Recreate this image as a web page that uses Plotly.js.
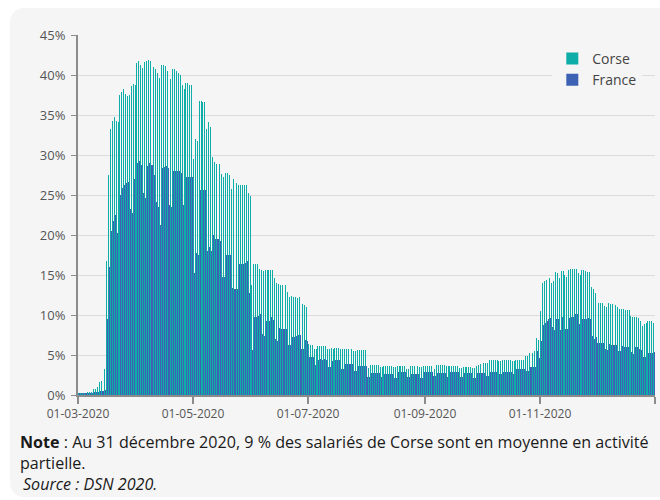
<!DOCTYPE html>
<html>
<head>
<meta charset="utf-8">
<script src="https://cdn.plot.ly/plotly-3.0.1.min.js"></script>
<style>
  html, body { margin:0; padding:0; background:#ffffff; width:660px; height:500px; overflow:hidden; }
  #card { position:absolute; left:10px; top:8px; width:680px; height:489px; background:#f5f5f5; border-radius:14px; }
  #chart { position:absolute; left:0; top:0; width:660px; height:500px; }
  #note { position:absolute; left:20px; top:432px; width:640px; font-family:"Open Sans", sans-serif; font-size:16.1px; line-height:21px; color:#1a1a1a; white-space:nowrap; }
  #note .src { font-style:italic; padding-left:3px; }
</style>
</head>
<body>
<div id="card"></div>
<div id="chart"></div>
<div id="note">
  <div><b>Note</b><span> : Au 31 décembre 2020, 9 % des salariés de Corse sont en moyenne en activité</span></div>
  <div>partielle.</div>
  <div class="src">Source : DSN 2020.</div>
</div>
<script>
// Daily share of employees in partial activity (%), from 01-03-2020 to 31-12-2020
const firstDay = '2020-03-01';
const corse = [
  0.3,0.3,0.3,0.3,0.3,0.4,0.4,
  0.4,0.8,0.8,1.0,1.6,1.7,1.9,
  3.2,16.7,27.5,33.3,34.2,34.7,34.2,
  34.1,37.5,37.9,38.2,37.6,37.4,37.5,
  38.6,38.9,38.8,41.5,41.8,41.2,40.9,
  41.6,41.7,41.9,41.8,41.8,41.0,40.7,
  40.3,39.6,41.3,41.2,41.1,40.5,40.0,
  39.5,40.8,40.7,40.5,40.2,40.0,38.8,
  38.3,39.0,39.0,38.8,38.7,29.5,32.0,
  31.7,36.8,36.8,36.6,36.6,33.3,34.1,
  33.5,29.8,29.1,28.9,28.9,28.9,27.6,
  27.3,27.8,27.7,27.5,25.8,27.0,26.3,
  26.5,26.3,26.3,26.3,26.3,26.2,25.2,
  24.9,13.8,16.4,16.4,16.4,15.8,15.6,
  15.5,15.6,15.6,15.6,15.6,15.6,14.6,
  14.0,13.9,13.8,13.8,13.8,13.8,12.9,
  12.3,12.4,12.3,12.3,12.1,12.3,11.6,
  11.4,11.2,11.0,6.4,6.3,6.3,5.8,
  5.8,6.1,6.1,6.1,6.1,6.1,5.8,
  5.8,5.9,5.7,5.9,5.9,5.9,5.7,
  5.7,5.8,5.8,5.7,5.8,5.7,5.5,
  5.5,5.6,5.6,5.6,5.6,5.6,3.4,
  3.4,3.7,3.8,3.7,3.7,3.8,3.5,
  3.5,3.6,3.6,3.6,3.6,3.6,3.5,
  3.5,3.6,3.6,3.6,3.6,3.6,3.3,
  3.3,3.6,3.6,3.6,3.6,3.6,3.5,
  3.5,3.6,3.6,3.6,3.6,3.6,3.3,
  3.3,3.7,3.8,3.7,3.7,3.8,3.6,
  3.6,3.6,3.6,3.6,3.6,3.6,3.4,
  3.4,3.5,3.5,3.5,3.5,3.5,3.4,
  3.4,3.6,3.7,3.9,4.0,4.0,4.0,
  4.0,4.4,4.4,4.4,4.4,4.4,4.2,
  4.2,4.4,4.4,4.4,4.4,4.4,4.2,
  4.2,4.4,4.4,4.4,4.4,4.4,4.9,
  4.9,5.2,5.2,5.3,5.5,7.1,6.9,
  10.5,14.0,14.3,14.4,14.5,14.6,14.0,
  14.2,15.4,15.3,14.6,15.5,15.5,15.0,
  14.8,15.6,15.7,15.7,15.7,15.7,15.3,
  15.0,15.6,15.6,15.5,15.4,15.4,13.5,
  13.2,12.7,11.5,11.5,11.5,11.5,11.1,
  11.0,11.5,11.4,11.4,11.3,11.3,11.0,
  10.7,10.7,10.7,10.6,10.6,10.6,9.9,
  9.7,9.7,9.7,9.6,9.2,8.6,8.9,
  9.0,9.2,9.2,9.2,9.0
];
const france = [
  0.3,0.3,0.3,0.3,0.3,0.3,0.3,
  0.3,0.4,0.4,0.4,0.5,0.5,0.5,
  0.6,9.5,16.0,20.5,21.8,22.5,20.2,
  20.2,25.0,25.9,26.3,26.5,26.6,23.3,
  22.8,27.0,27.8,29.0,29.2,28.8,25.2,
  24.6,28.6,29.0,28.8,28.8,27.5,24.1,
  23.5,21.3,28.4,28.5,28.6,28.4,23.7,
  23.5,28.0,28.0,28.0,28.0,27.8,23.8,
  23.3,27.3,27.3,27.3,27.3,15.2,17.8,
  17.5,25.6,25.6,25.6,25.6,18.0,18.5,
  18.0,20.0,19.5,19.5,19.5,19.3,14.8,
  14.7,17.5,17.5,17.5,13.4,13.3,13.3,
  13.3,16.4,16.4,16.4,16.5,16.7,12.7,
  12.3,5.6,9.7,9.7,9.9,10.1,7.6,
  7.4,9.2,9.2,9.2,9.7,9.4,7.0,
  6.8,8.4,8.3,8.3,8.3,8.2,6.2,
  6.3,7.3,7.3,7.4,7.5,7.5,5.8,
  5.7,6.9,6.8,4.7,4.7,4.7,3.7,
  3.7,4.4,4.5,4.4,4.5,4.4,3.5,
  3.5,4.3,3.3,4.4,4.4,4.4,3.2,
  3.2,3.9,3.9,3.9,3.9,3.9,3.0,
  3.0,3.6,3.6,3.6,3.6,3.6,2.2,
  2.2,2.8,2.8,2.8,2.8,2.8,2.2,
  2.2,2.6,2.6,2.6,2.6,2.6,2.1,
  2.1,2.9,2.9,2.9,2.9,2.9,2.2,
  2.2,2.6,2.6,2.6,2.6,2.6,2.1,
  2.1,2.9,2.9,2.9,2.9,2.9,2.4,
  2.4,2.8,2.8,2.8,2.8,2.8,2.2,
  2.2,2.9,2.9,2.9,2.9,2.9,2.2,
  2.2,2.7,2.7,2.7,2.7,2.7,2.1,
  2.1,2.7,2.7,2.7,2.7,2.7,2.4,
  2.4,2.9,2.9,2.9,2.9,2.9,2.6,
  2.6,2.9,2.9,2.9,2.9,2.9,2.6,
  2.6,3.2,3.2,3.2,3.2,3.2,3.0,
  3.0,3.5,3.5,3.5,3.5,5.5,4.6,
  6.7,8.8,9.0,9.2,9.5,9.6,8.5,
  8.1,9.5,9.5,8.1,9.8,10.0,8.3,
  8.2,9.6,9.7,9.7,10.1,10.1,8.9,
  8.3,9.5,9.5,9.5,9.6,9.5,7.4,
  7.0,7.3,6.5,6.5,6.5,6.5,5.7,
  5.6,6.4,6.3,6.3,6.3,6.3,5.5,
  5.5,6.1,6.0,6.0,6.0,6.1,5.4,
  5.1,6.0,6.0,5.8,5.6,4.8,4.8,
  4.9,5.3,5.3,5.3,5.4
];
const tickDates = ['2020-03-01','2020-05-01','2020-07-01','2020-09-01','2020-11-01','2021-01-01'];
const tickLabels = ['01-03-2020','01-05-2020','01-07-2020','01-09-2020','01-11-2020',''];
const seriesNames = ['Corse','France'];

// one date per value, each bar centred on its day
const days = [];
const start = new Date(firstDay + 'T00:00:00Z');
for (let i = 0; i < corse.length; i++) {
  const d = new Date(start.getTime() + i * 86400000);
  days.push(d.toISOString().slice(0,10) + ' 12:00');
}

const traces = [
  {type:'bar', name:seriesNames[0], x:days, y:corse, marker:{color:'#0fada8', line:{width:0}}, hoverinfo:'x+y'},
  {type:'bar', name:seriesNames[1], x:days, y:france, marker:{color:'#3e62b3', line:{width:0}}, hoverinfo:'x+y'}
];

const layout = {
  width:660, height:500,
  margin:{l:78, r:5, t:35, b:105},
  paper_bgcolor:'rgba(0,0,0,0)',
  plot_bgcolor:'rgba(0,0,0,0)',
  barmode:'group', bargap:0, bargroupgap:0,
  font:{family:'"Open Sans", sans-serif', size:12, color:'#555555'},
  showlegend:true,
  legend:{x:0.822, y:0.978, xanchor:'left', yanchor:'top', bgcolor:'#f5f5f5',
          font:{size:14, color:'#444444'}, tracegroupgap:0, itemwidth:30},
  xaxis:{type:'date', range:['2020-03-01','2021-01-01'],
         tickmode:'array', tickvals:tickDates, ticktext:tickLabels,
         showgrid:false, zeroline:false,
         showline:true, linecolor:'#8c8c8c', linewidth:2,
         ticks:'outside', ticklen:7, tickwidth:2, tickcolor:'#8c8c8c',
         tickfont:{size:12, color:'#555555'}, fixedrange:true},
  yaxis:{range:[0,45], dtick:5, tick0:0, ticksuffix:'%',
         showgrid:true, gridcolor:'#dcdcdc', gridwidth:1, zeroline:false,
         showline:true, linecolor:'#8c8c8c', linewidth:2,
         ticks:'outside', ticklen:5, tickwidth:1, tickcolor:'#8c8c8c',
         ticklabelstandoff:3,
         tickfont:{size:13, color:'#555555'}, fixedrange:true}
};

Plotly.newPlot('chart', traces, layout, {displayModeBar:false, staticPlot:true});
</script>
</body>
</html>
